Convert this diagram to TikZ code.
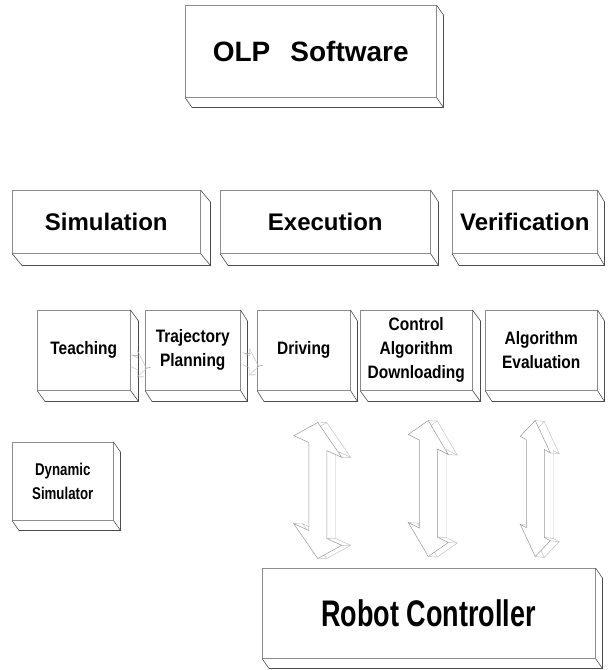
\documentclass[tikz,border=0pt]{standalone}
\usepackage{fontspec}
\setmainfont{Liberation Sans}
\newfontfamily\semisans[FakeStretch=0.86]{Liberation Sans}
\newfontfamily\smallsans[FakeStretch=0.78]{Liberation Sans}
\newfontfamily\narrowsans[FakeStretch=0.73]{Liberation Sans}
\usetikzlibrary{calc}

\tikzset{
  face/.style={draw=black!45, line width=0.5pt, fill=white, inner sep=0pt,
    align=center, anchor=north west},
  edgeline/.style={draw=black!70, line width=0.6pt},
  arrfront/.style={draw=black!40, line width=0.5pt},
  arrback/.style={draw=black!25, line width=0.45pt},
  titlefont/.style={font=\bfseries\fontsize{28}{32}\selectfont},
  groupfont/.style={font=\bfseries\fontsize{24}{28}\selectfont},
  taskfont/.style={font=\semisans\bfseries\fontsize{18}{24}\selectfont},
  simfont/.style={font=\smallsans\bfseries\fontsize{17}{24}\selectfont},
  bigfont/.style={font=\narrowsans\bfseries\fontsize{37}{40}\selectfont}
}

% bottom and right faces of an extruded box
\newcommand\extrude[3]{%
  \draw[edgeline] (#1.south west) -- ++(#2,#3) -- ($(#1.south east)+(#2,#3)$) -- (#1.south east)
    (#1.north east) -- ++(#2,#3) -- ($(#1.south east)+(#2,#3)$);
}

% vertical double-headed block arrow in perspective: top point, half head width, slant
\newcommand\updown[3]{%
  \begin{scope}[shift={(#1)}, yslant=-#3]
    \def\hw{#2}
    \draw[arrback, shift={(9,-4)}] (0,0) -- (\hw,24) -- (9,24) -- (9,112) -- (\hw,112) -- (0,136)
      -- (-\hw,112) -- (-9,112) -- (-9,24) -- (-\hw,24) -- cycle;
    \draw[arrback] (0,0) -- ++(9,-4) (\hw,24) -- ++(9,-4) (9,112) -- ++(9,-4)
      (\hw,112) -- ++(9,-4) (0,136) -- ++(9,-4) (-\hw,112) -- ++(9,-4);
    \draw[arrfront, fill=white] (0,0) -- (\hw,24) -- (9,24) -- (9,112) -- (\hw,112) -- (0,136)
      -- (-\hw,112) -- (-9,112) -- (-9,24) -- (-\hw,24) -- cycle;
  \end{scope}
}

% small right-pointing block arrow between neighbouring boxes
\newcommand\rightarr[1]{%
  \begin{scope}[shift={(#1)}, yslant=-0.5]
    \draw[arrback] (0,-4) -- (7,-4) -- (7,-11) -- (16,2) -- (7,15) -- (7,8) -- (0,8);
    \draw[arrfront] (2,-4) -- ++(6,-3) (16,2) -- ++(4,-3) (7,15) -- ++(6,-3);
  \end{scope}
}

\begin{document}
\begin{tikzpicture}[x=1pt,y=-1pt]
\useasboundingbox (0,0) rectangle (608,670);
\fill[white] (0,0) rectangle (608,670);

% top level
\node[face, titlefont, minimum width=251pt, minimum height=92pt] (olp) at (185,5)
  {OLP\hspace{20pt}Software};
\extrude{olp}{7}{10}

% main functions
\node[face, groupfont, minimum width=188pt, minimum height=63pt] (sim) at (12,190) {Simulation};
\extrude{sim}{10}{12}
\node[face, groupfont, minimum width=210pt, minimum height=63pt] (exe) at (220,190) {Execution};
\extrude{exe}{8}{12}
\node[face, groupfont, minimum width=145pt, minimum height=63pt] (ver) at (452,190) {Verification};
\extrude{ver}{7}{12}

% tasks
\node[face, taskfont, minimum width=93pt, minimum height=80pt] (tea) at (37,310) {Teaching};
\extrude{tea}{8}{11}
\node[face, taskfont, minimum width=95pt, minimum height=80pt] (trj) at (145,310) {Trajectory\\Planning};
\extrude{trj}{7}{11}
\node[face, taskfont, minimum width=93pt, minimum height=80pt] (drv) at (257,310) {Driving};
\extrude{drv}{7}{11}
\node[face, taskfont, minimum width=112pt, minimum height=80pt] (ctl) at (360,310) {Control\\Algorithm\\Downloading};
\extrude{ctl}{8}{11}
\node[face, taskfont, minimum width=112pt, minimum height=80pt] (eva) at (485,310) {Algorithm\\Evaluation};
\extrude{eva}{7}{11}

\node[face, simfont, minimum width=101pt, minimum height=78pt] (dyn) at (12,442) {Dynamic\\Simulator};
\extrude{dyn}{7}{10}

\node[face, bigfont, minimum width=333pt, minimum height=90pt] (rc) at (262,568) {Robot Controller};
\extrude{rc}{7}{10}

% links between tasks
\coordinate (l1) at ($(tea.east)+(0,8)$);
\coordinate (l2) at ($(trj.east)+(2,6)$);
\rightarr{l1}
\rightarr{l2}

% links to the robot controller
\coordinate (a1) at ($(drv.south)+(14,32)$);
\coordinate (a2) at ($(ctl.south)+(12,30)$);
\coordinate (a3) at ($(eva.south)+(-6,30)$);
\updown{a1}{24}{0.45}
\updown{a2}{20}{0.5}
\updown{a3}{15}{0.55}
\end{tikzpicture}
\end{document}
